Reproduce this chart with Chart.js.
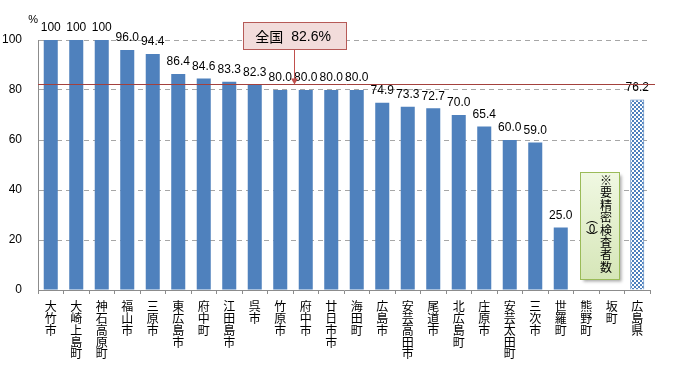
<!DOCTYPE html>
<html>
<head>
<meta charset="utf-8">
<script src="https://cdn.jsdelivr.net/npm/chart.js@4/dist/chart.umd.min.js"></script>
<style>
  body { margin: 0; background: #fff; }
</style>
</head>
<body>
<canvas id="chartKenshin" width="681" height="371"></canvas>
<script>
var cities = ['大竹市', '大崎上島町', '神石高原町', '福山市', '三原市', '東広島市', '府中町', '江田島市', '呉市', '竹原市',
    '府中市', '廿日市市', '海田町', '広島市', '安芸高田市', '尾道市', '北広島町', '庄原市', '安芸太田町', '三次市',
    '世羅町', '熊野町', '坂町', '広島県'];
var rates = [100, 100, 100, 96.0, 94.4, 86.4, 84.6, 83.3, 82.3, 80.0,
    80.0, 80.0, 80.0, 74.9, 73.3, 72.7, 70.0, 65.4, 60.0, 59.0,
    25.0, null, null, 76.2];
var rateLabels = ['100', '100', '100', '96.0', '94.4', '86.4', '84.6', '83.3', '82.3', '80.0',
    '80.0', '80.0', '80.0', '74.9', '73.3', '72.7', '70.0', '65.4', '60.0', '59.0',
    '25.0', '', '', '76.2'];
var yTicks = [0, 20, 40, 60, 80, 100];
var national = 82.6;
var nationalText = ['全国', '82.6%'];
var noteMain = '※要精密検査者数';
var noteSub = ['︵', '0', '︶'];

var blue = '#4f81bd';

// checkered fill for the prefecture bar
var pc = document.createElement('canvas');
pc.width = 4; pc.height = 4;
var p = pc.getContext('2d');
p.fillStyle = '#ffffff';
p.fillRect(0, 0, 4, 4);
p.fillStyle = blue;
p.fillRect(0, 0, 2, 2);
p.fillRect(2, 2, 2, 2);
var ctx0 = document.getElementById('chartKenshin').getContext('2d');
var checker = ctx0.createPattern(pc, 'repeat');

var bgColors = cities.map(function (c, i) { return i === cities.length - 1 ? checker : blue; });
var bdWidths = cities.map(function (c, i) { return i === cities.length - 1 ? 1 : 0; });

var extras = {
    id: 'extras',
    afterDatasetsDraw: function (chart) {
        var ctx = chart.ctx;
        var xs = chart.scales.x, ys = chart.scales.y;
        var meta = chart.getDatasetMeta(0);

        // value labels
        ctx.save();
        ctx.font = '12px "Liberation Sans", Arial, sans-serif';
        ctx.fillStyle = '#000';
        ctx.textAlign = 'center';
        ctx.textBaseline = 'bottom';
        meta.data.forEach(function (bar, i) {
            if (rates[i] === null) return;
            ctx.fillText(rateLabels[i], bar.x, bar.y - 6);
        });

        // % unit
        ctx.font = '11px "Liberation Sans", Arial, sans-serif';
        ctx.textAlign = 'right';
        ctx.fillText('%', xs.left, ys.getPixelForValue(100) - 15);
        ctx.restore();

        // national line
        var ny = Math.round(ys.getPixelForValue(national)) + 0.5;
        ctx.save();
        ctx.strokeStyle = '#a4413d';
        ctx.lineWidth = 1;
        ctx.beginPath();
        ctx.moveTo(xs.left, ny);
        ctx.lineTo(xs.right + 5, ny);
        ctx.stroke();

        // national callout
        var cx = xs.getPixelForValue(9.55);
        var bx = cx - 51, bw = 103;
        var by = Math.round(ys.getPixelForValue(107.2)) + 0.5;
        var bh = 27;
        ctx.strokeStyle = '#c0504d';
        ctx.beginPath();
        ctx.moveTo(Math.round(cx) + 0.5, by + bh);
        ctx.lineTo(Math.round(cx) + 0.5, ny - 1);
        ctx.stroke();
        ctx.fillStyle = '#c0504d';
        ctx.beginPath();
        ctx.moveTo(Math.round(cx) + 0.5, ny);
        ctx.lineTo(Math.round(cx) - 3, ny - 6);
        ctx.lineTo(Math.round(cx) + 4, ny - 6);
        ctx.closePath();
        ctx.fill();
        ctx.fillStyle = '#f2dcdb';
        ctx.fillRect(Math.round(bx) + 0.5, by, bw, bh);
        ctx.strokeStyle = '#b65a57';
        ctx.strokeRect(Math.round(bx) + 0.5, by, bw, bh);
        ctx.fillStyle = '#000';
        ctx.textBaseline = 'middle';
        ctx.textAlign = 'left';
        ctx.font = '14px "Noto Sans CJK JP", sans-serif';
        ctx.fillText(nationalText[0], bx + 12, by + bh / 2 + 1);
        ctx.font = '14px "Liberation Sans", Arial, sans-serif';
        ctx.fillText(nationalText[1], bx + 48, by + bh / 2 + 1);
        ctx.restore();

        // note box for towns with no data
        var gx = (xs.getPixelForValue(21) + xs.getPixelForValue(22)) / 2;
        var gTop = Math.round(ys.getPixelForValue(47.2)) + 0.5;
        var gBot = Math.round(ys.getPixelForValue(4.4)) + 0.5;
        var gL = Math.round(gx - 19.5) + 0.5, gW = 39;
        ctx.save();
        ctx.shadowColor = 'rgba(0,0,0,0.35)';
        ctx.shadowOffsetX = 2;
        ctx.shadowOffsetY = 2;
        ctx.shadowBlur = 3;
        var grad = ctx.createLinearGradient(0, gTop, 0, gBot);
        grad.addColorStop(0, '#f0f8e2');
        grad.addColorStop(1, '#d6e6b8');
        ctx.fillStyle = grad;
        ctx.fillRect(gL, gTop, gW, gBot - gTop);
        ctx.shadowColor = 'transparent';
        ctx.strokeStyle = '#9bbb59';
        ctx.strokeRect(gL, gTop, gW, gBot - gTop);
        ctx.fillStyle = '#000';
        ctx.font = '12px "Noto Sans CJK JP", sans-serif';
        ctx.textAlign = 'center';
        ctx.textBaseline = 'middle';
        for (var k = 0; k < noteMain.length; k++) {
            ctx.fillText(noteMain[k], gx + 7, gTop + 8 + k * 12.4);
        }
        for (var m = 0; m < noteSub.length; m++) {
            ctx.fillText(noteSub[m], gx - 7, gTop + 46 + m * 9.5);
        }
        ctx.restore();
    }
};

new Chart(ctx0, {
    type: 'bar',
    data: {
        labels: cities.map(function (c) { return c.split(''); }),
        datasets: [{
            data: rates,
            backgroundColor: bgColors,
            borderColor: blue,
            borderWidth: bdWidths,
            barPercentage: 0.55,
            categoryPercentage: 1.0
        }]
    },
    options: {
        responsive: false,
        animation: false,
        layout: {padding: {top: 40, right: 31, left: 0, bottom: 0}},
        plugins: {legend: {display: false}, tooltip: {enabled: false}},
        scales: {
            x: {
                grid: {display: true, drawOnChartArea: false, drawTicks: true, tickLength: 4, color: '#8c8c8c', offset: true},
                border: {color: '#8c8c8c'},
                ticks: {
                    autoSkip: false, maxRotation: 0, minRotation: 0, padding: 7, color: '#000',
                    font: {family: '"Noto Sans CJK JP", sans-serif', size: 12, lineHeight: 0.98}
                },
                afterFit: function (scale) { scale.height = 81; }
            },
            y: {
                min: 0, max: 100,
                afterBuildTicks: function (scale) {
                    scale.ticks = yTicks.map(function (v) { return {value: v}; });
                },
                grid: {color: '#a6a6a6', drawTicks: false},
                border: {color: '#8c8c8c', dash: [5, 4]},
                ticks: {
                    padding: 16, color: '#000',
                    font: {family: '"Liberation Sans", Arial, sans-serif', size: 12}
                },
                afterFit: function (scale) { scale.width = 38; }
            }
        }
    },
    plugins: [extras]
});
</script>
</body>
</html>
